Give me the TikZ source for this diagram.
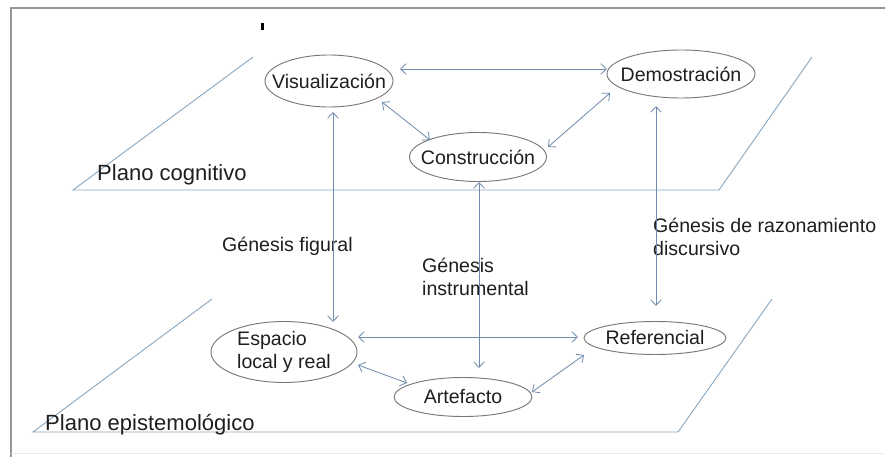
\documentclass[tikz,border=0pt]{standalone}
\usepackage{fontspec}
\setmainfont{Liberation Sans}
\usetikzlibrary{shapes.geometric,arrows.meta}

\definecolor{linkblue}{RGB}{112,140,170}
\definecolor{planeblue}{RGB}{140,168,192}
\definecolor{ellgray}{RGB}{120,120,120}
\definecolor{txtgray}{RGB}{30,30,30}
\definecolor{framegray}{RGB}{150,150,150}

\tikzset{
  fase/.style={ellipse,draw=ellgray,line width=0.8pt,inner sep=0pt,
    label={[txtgray,align=left]center:#1}},
  link/.style={draw=linkblue,line width=0.7pt,
    {Straight Barb[length=1.7mm,width=3.2mm]}-{Straight Barb[length=1.7mm,width=3.2mm]}},
  plano/.style={draw=planeblue,line width=0.8pt},
  rotulo/.style={txtgray,inner sep=0pt,anchor=west,align=left},
  planotxt/.style={rotulo,font=\fontsize{18.8}{22}\selectfont}
}

\begin{document}
\begin{tikzpicture}[x=0.03cm,y=-0.03cm,
    every node/.style={font=\fontsize{16.7}{20}\selectfont}]

    \useasboundingbox (0,0) rectangle (885,457);
    \draw[framegray,line width=1.6pt] (885,8) -- (11,8) -- (11,457); %marco
    \draw[black!8,line width=0.8pt] (11,453) -- (885,453);
    \fill[black] (261,23) rectangle (263.5,30);

    % planos
    \draw[plano] (253,57) -- (73,190) -- (719,190) -- (812,57);
    \draw[plano] (212,299) -- (33,432) -- (678,432) -- (772,299);

    \node[planotxt] (cogn) at (97,175) {Plano cognitivo};
    \node[planotxt] (epis) at (45,425) {Plano epistemológico};

    % elipses
    \node[fase={Visualización},minimum width=3.84cm,minimum height=1.56cm] (vis) at (329,81) {};
    \node[fase={Demostración},minimum width=4.44cm,minimum height=1.44cm] (dem) at (681,74) {};
    \node[fase={Construcción},minimum width=4.11cm,minimum height=1.47cm] (cons) at (478,157) {};
    \node[fase={Espacio\\local y real},minimum width=4.38cm,minimum height=1.83cm] (esp) at (284,352) {};
    \node[fase={Referencial},minimum width=4.26cm,minimum height=0.99cm] (ref) at (655,338) {};
    \node[fase={Artefacto},minimum width=4.14cm,minimum height=1.17cm] (art) at (463,397) {};

    % genesis
    \node[rotulo] (gfig) at (222,246) {Génesis figural};
    \node[rotulo] (gins) at (422,277) {Génesis\\instrumental};
    \node[rotulo] (gdis) at (653,237) {Génesis de razonamiento\\discursivo};

    % conexiones
    \draw[link] ([shift={(71,-12)}]vis.center) -- ([shift={(-74,-5)}]dem.center);
    \draw[link] ([shift={(53,21)}]vis.center) -- ([shift={(-48,-17)}]cons.center);
    \draw[link] ([shift={(-71,19)}]dem.center) -- ([shift={(70,-10)}]cons.center);
    \draw[link] ([shift={(4,31)}]vis.center) -- ([shift={(49,-30)}]esp.center);
    \draw[link] ([shift={(1,25)}]cons.center) -- ([shift={(16,-29)}]art.center);
    \draw[link] ([shift={(-25,32)}]dem.center) -- ([shift={(1,-32)}]ref.center);
    \draw[link] ([shift={(74,-15)}]esp.center) -- ([shift={(-77,-1)}]ref.center);
    \draw[link] ([shift={(74,13)}]esp.center) -- ([shift={(-56,-14)}]art.center);
    \draw[link] ([shift={(69,-5)}]art.center) -- ([shift={(-71,17)}]ref.center);
  \end{tikzpicture}
\end{document}
